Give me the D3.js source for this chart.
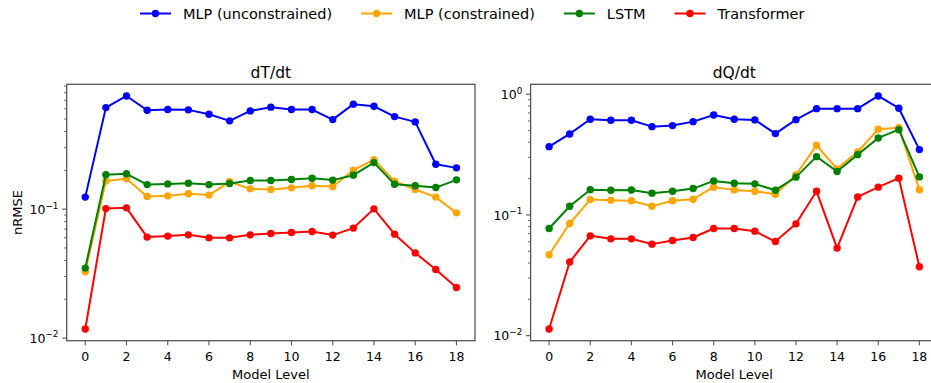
<!DOCTYPE html>
<html>
<head>
<meta charset="utf-8">
<script src="https://cdn.jsdelivr.net/npm/d3@7"></script>
<style>
  body { margin: 0; background: #fff; }
  svg { display: block; }
  text { font-family: "DejaVu Sans", sans-serif; fill: #000; }
</style>
</head>
<body>
<svg id="chart" width="931" height="383"></svg>
<script>
// Model levels on the x axis
const levels = [0, 1, 2, 3, 4, 5, 6, 7, 8, 9, 10, 11, 12, 13, 14, 15, 16, 17, 18];
const xTicks = [0, 2, 4, 6, 8, 10, 12, 14, 16, 18];

// nRMSE per level, dT/dt
const mlpUncT = [0.124, 0.613, 0.755, 0.585, 0.592, 0.589, 0.545, 0.484, 0.578, 0.618, 0.592, 0.592, 0.495, 0.652, 0.628, 0.522, 0.475, 0.223, 0.209];
const mlpConT = [0.0327, 0.165, 0.172, 0.1253, 0.1268, 0.1315, 0.1285, 0.163, 0.1437, 0.142, 0.1463, 0.1517, 0.1497, 0.2005, 0.2423, 0.165, 0.142, 0.124, 0.0936];
const lstmT   = [0.0349, 0.185, 0.188, 0.155, 0.157, 0.159, 0.155, 0.158, 0.1666, 0.1666, 0.1696, 0.1738, 0.168, 0.1835, 0.2296, 0.156, 0.152, 0.147, 0.1687];
const transT  = [0.01175, 0.101, 0.1023, 0.0607, 0.0618, 0.0632, 0.0599, 0.0599, 0.0632, 0.0647, 0.0659, 0.067, 0.0629, 0.0713, 0.1005, 0.064, 0.0458, 0.034, 0.0247];

// nRMSE per level, dQ/dt
const mlpUncQ = [0.368, 0.469, 0.621, 0.609, 0.609, 0.539, 0.55, 0.593, 0.674, 0.621, 0.613, 0.472, 0.616, 0.76, 0.76, 0.76, 0.968, 0.766, 0.348];
const mlpConQ = [0.0468, 0.0849, 0.134, 0.1326, 0.131, 0.118, 0.131, 0.135, 0.17, 0.1613, 0.1573, 0.1486, 0.2148, 0.378, 0.241, 0.333, 0.513, 0.529, 0.162];
const lstmQ   = [0.0772, 0.118, 0.162, 0.1603, 0.161, 0.1515, 0.1573, 0.1654, 0.1915, 0.1833, 0.1809, 0.1603, 0.2056, 0.304, 0.229, 0.316, 0.4346, 0.509, 0.2067];
const transQ  = [0.01134, 0.0407, 0.0671, 0.0634, 0.0634, 0.0573, 0.0614, 0.065, 0.0772, 0.0772, 0.0734, 0.0602, 0.0844, 0.157, 0.0531, 0.141, 0.17, 0.2017, 0.0372];

const seriesNames = ["MLP (unconstrained)", "MLP (constrained)", "LSTM", "Transformer"];
const seriesColors = ["#0000ff", "#ffa500", "#008000", "#ff0000"];

const panels = [
  { title: "dT/dt", series: [mlpUncT, mlpConT, lstmT, transT], majors: [0.01, 0.1], left: 66.7, right: 475, ylabel: "nRMSE" },
  { title: "dQ/dt", series: [mlpUncQ, mlpConQ, lstmQ, transQ], majors: [0.01, 0.1, 1], left: 530.6, right: 937.9, ylabel: null }
];

const plotTop = 84.3, plotBottom = 340.7;
const svg = d3.select("#chart");
const axisColor = "#555";
const superscripts = { 0: "0", "-1": "\u22121", "-2": "\u22122" };

panels.forEach(p => {
  const g = svg.append("g");
  const x = d3.scaleLinear().domain([-0.9, 18.9]).range([p.left, p.right]);

  // log-space limits with a 5% margin around the data
  const all = p.series.flat();
  const lo = Math.log10(d3.min(all)), hi = Math.log10(d3.max(all));
  const pad = (hi - lo) * 0.05;
  const y = d3.scaleLog().domain([Math.pow(10, lo - pad), Math.pow(10, hi + pad)]).range([plotBottom, plotTop]);

  // minor ticks
  const minors = [];
  [0.01, 0.1, 1].forEach(d => { for (let k = 2; k <= 9; k++) minors.push(d * k); });
  const [d0, d1] = y.domain();
  g.selectAll(".minor").data(minors.filter(v => v >= d0 && v <= d1)).join("line")
    .attr("x1", p.left - 2.6).attr("x2", p.left)
    .attr("y1", d => y(d)).attr("y2", d => y(d))
    .attr("stroke", axisColor).attr("stroke-width", 0.9);

  // major y ticks and labels
  g.selectAll(".major").data(p.majors).join("line")
    .attr("x1", p.left - 4.6).attr("x2", p.left)
    .attr("y1", d => y(d)).attr("y2", d => y(d))
    .attr("stroke", axisColor).attr("stroke-width", 1.1);
  const yl = g.selectAll(".ylab").data(p.majors).join("text")
    .attr("x", p.left - 8.3).attr("y", d => y(d) + 4.6)
    .attr("text-anchor", "end").attr("font-size", 12.5);
  yl.append("tspan").text("10");
  yl.append("tspan").attr("font-size", 8.8).attr("dy", -5.2)
    .text(d => superscripts[Math.round(Math.log10(d))]);

  // x ticks and labels
  g.selectAll(".xt").data(xTicks).join("line")
    .attr("x1", d => x(d)).attr("x2", d => x(d))
    .attr("y1", plotBottom).attr("y2", plotBottom + 4.6)
    .attr("stroke", axisColor).attr("stroke-width", 1.1);
  g.selectAll(".xl").data(xTicks).join("text")
    .attr("x", d => x(d)).attr("y", plotBottom + 20)
    .attr("text-anchor", "middle").attr("font-size", 12.5)
    .text(d => d);

  // series lines and markers
  const line = d3.line().x((d, i) => x(levels[i])).y(d => y(d));
  p.series.forEach((vals, si) => {
    g.append("path").datum(vals)
      .attr("d", line).attr("fill", "none")
      .attr("stroke", seriesColors[si]).attr("stroke-width", 2)
      .attr("stroke-linejoin", "round");
    g.selectAll(null).data(vals).join("circle")
      .attr("cx", (d, i) => x(levels[i])).attr("cy", d => y(d))
      .attr("r", 3.7).attr("fill", seriesColors[si]);
  });

  // frame
  g.append("rect")
    .attr("x", p.left).attr("y", plotTop)
    .attr("width", p.right - p.left).attr("height", plotBottom - plotTop)
    .attr("fill", "none").attr("stroke", axisColor).attr("stroke-width", 1.3);

  // titles and axis labels
  const cx = (p.left + p.right) / 2;
  g.append("text").attr("x", cx).attr("y", 77.5)
    .attr("text-anchor", "middle").attr("font-size", 15.5).text(p.title);
  g.append("text").attr("x", cx).attr("y", 378.5)
    .attr("text-anchor", "middle").attr("font-size", 13).text("Model Level");
  if (p.ylabel) {
    g.append("text")
      .attr("transform", `translate(22,${(plotTop + plotBottom) / 2}) rotate(-90)`)
      .attr("text-anchor", "middle").attr("font-size", 13).text(p.ylabel);
  }
});

// legend across the top
const legend = svg.append("g");
let lx = 140;
seriesNames.forEach((name, i) => {
  const ly = 13.5;
  legend.append("line").attr("x1", lx).attr("x2", lx + 31).attr("y1", ly).attr("y2", ly)
    .attr("stroke", seriesColors[i]).attr("stroke-width", 2);
  legend.append("circle").attr("cx", lx + 15.5).attr("cy", ly).attr("r", 3.7).attr("fill", seriesColors[i]);
  const t = legend.append("text").attr("x", lx + 43).attr("y", ly + 5)
    .attr("font-size", 14.5).text(name);
  lx = lx + 43 + t.node().getComputedTextLength() + 29;
});
</script>
</body>
</html>
